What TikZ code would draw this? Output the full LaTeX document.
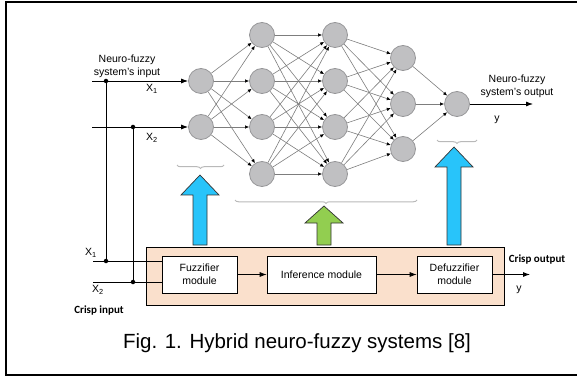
\documentclass[tikz,border=0pt]{standalone}
\usepackage{fontspec}
\setmainfont{Liberation Sans}
\newfontfamily\calib{Carlito}
\usetikzlibrary{arrows.meta,decorations.pathreplacing}

\definecolor{neuronfill}{RGB}{192,192,194}
\definecolor{neuronedge}{RGB}{150,150,152}
\definecolor{linkgray}{RGB}{125,125,125}
\definecolor{bracegray}{RGB}{185,185,185}
\definecolor{skyblue}{RGB}{40,196,250}
\definecolor{leafgreen}{RGB}{146,206,80}
\definecolor{peach}{RGB}{250,224,204}

\tikzset{
  neuron/.style={circle, minimum size=25pt, inner sep=0pt, fill=neuronfill, draw=neuronedge, line width=0.8pt},
  link/.style={draw=linkgray, line width=0.6pt, -{Latex[length=4pt,width=3.5pt,black]}},
  signal/.style={draw=black, line width=0.8pt, -{Latex[length=7pt,width=5pt]}},
  wire/.style={draw=black, line width=0.8pt},
  junction/.style={circle, fill=black, inner sep=0pt, minimum size=4.5pt},
  modbox/.style={draw=black, fill=white, line width=0.6pt, align=center, inner sep=0pt,
                 minimum height=37pt, font=\fontsize{10.5}{13}\selectfont},
  lbl/.style={align=center, inner sep=0pt, font=\fontsize{10.5}{13}\selectfont},
  boldlbl/.style={inner sep=0pt, font=\calib\bfseries\fontsize{11}{13}\selectfont},
  layerbrace/.style={draw=bracegray, line width=1pt, decorate,
                     decoration={brace, mirror, amplitude=3.5pt}},
  fatarrow/.style={draw=black!80, line width=0.7pt, line join=miter},
}

\begin{document}
\begin{tikzpicture}[x=1pt, y=-1pt]
\useasboundingbox (0,0) rectangle (577,379);

% frame
\draw[line width=2.5pt] (580,2) -- (6,2) -- (6,375) -- (580,375);

% neurons, layer by layer
\node[neuron] (a1) at (201,81) {};
\node[neuron] (a2) at (201,127) {};
\foreach \i/\y in {1/35,2/81,3/127,4/174} {
  \node[neuron] (b\i) at (262,\y) {};
  \node[neuron] (c\i) at (335,\y) {};
}
\node[neuron] (d1) at (403,58) {};
\node[neuron] (d2) at (403,104) {};
\node[neuron] (d3) at (403,149) {};
\node[neuron] (e1) at (457,104) {};

% weighted links
\foreach \i in {1,2} \foreach \j in {1,...,4} \draw[link] (a\i) -- (b\j);
\foreach \i in {1,...,4} \foreach \j in {1,...,4} \draw[link] (b\i) -- (c\j);
\foreach \i in {1,...,4} \foreach \j in {1,2,3} \draw[link] (c\i) -- (d\j);
\foreach \i in {1,2,3} \draw[link] (d\i) -- (e1);

% network inputs and output
\coordinate (in1) at (92,81);
\coordinate (in2) at (92,127);
\coordinate (out) at (533,104);
\draw[signal] (in1) -- (a1);
\draw[signal] (in2) -- (a2);
\draw[signal] (e1) -- (out);
\node[lbl] (netin) at (127,66) {Neuro-fuzzy\\system's input};
\node[lbl] (netx1) at (152,89) {X\textsubscript{1}};
\node[lbl] (netx2) at (152,138) {X\textsubscript{2}};
\node[lbl] (netout) at (517,86) {Neuro-fuzzy\\system's output};
\node[lbl] (nety) at (497,120) {y};

% layer braces
\coordinate (br1a) at (177,165); \coordinate (br1b) at (224,165);
\coordinate (br2a) at (235,200); \coordinate (br2b) at (417,200);
\coordinate (br3a) at (437,140); \coordinate (br3b) at (477,140);
\draw[layerbrace] (br1a) -- (br1b);
\draw[layerbrace] (br2a) -- (br2b);
\draw[layerbrace] (br3a) -- (br3b);

% fuzzy system block
\node[draw=black, fill=peach, line width=0.6pt, minimum width=358pt, minimum height=58pt, inner sep=0pt]
  (fsys) at (325,276) {};
\node[modbox, minimum width=75pt] (fuzz) at (199.5,274.5) {Fuzzifier\\module};
\node[modbox, minimum width=109pt] (infer) at (321.5,274.5) {Inference module};
\node[modbox, minimum width=75pt] (defuzz) at (454.5,274.5) {Defuzzifier\\module};
\draw[signal] (fuzz) -- (infer);
\draw[signal] (infer) -- (defuzz);
\coordinate (cout) at (530,274.5);
\draw[signal] (defuzz) -- (cout);

% crisp inputs, tapped to the network inputs
\coordinate (cx1) at (93,261);
\coordinate (cx2) at (93,282);
\draw[wire] (cx1) -- (cx1 -| fuzz.west);
\draw[wire] (cx2) -- (cx2 -| fuzz.west);
\node[junction] (j1) at (106,81) {};
\node[junction] (j2) at (133,127) {};
\node[junction] (j3) at (106,261) {};
\node[junction] (j4) at (133,282) {};
\draw[wire] (j1) -- (j3);
\draw[wire] (j2) -- (j4);
\node[lbl] (cx1l) at (91,253) {X\textsubscript{1}};
\node[lbl] (cx2l) at (98,290) {X\textsubscript{2}};
\node[boldlbl] (cin) at (99,311) {Crisp input};
\node[boldlbl] (coutl) at (537,260) {Crisp output};
\node[lbl] (cy) at (519,290) {y};

% block-to-layer arrows
\filldraw[fatarrow, fill=skyblue] (193,245) -- (193,195) -- (181,195) -- (200,175) -- (219,195) -- (207,195) -- (207,245) -- cycle;
\filldraw[fatarrow, fill=leafgreen] (317,245) -- (317,223) -- (305,223) -- (324,206) -- (343,223) -- (331,223) -- (331,245) -- cycle;
\filldraw[fatarrow, fill=skyblue] (447,245) -- (447,167) -- (435,167) -- (454,147) -- (473,167) -- (461,167) -- (461,245) -- cycle;

% caption
\node[inner sep=0pt, font=\fontsize{20.5}{24}\selectfont] (cap) at (297,343) {Fig. 1. Hybrid neuro-fuzzy systems [8]};
\end{tikzpicture}
\end{document}
